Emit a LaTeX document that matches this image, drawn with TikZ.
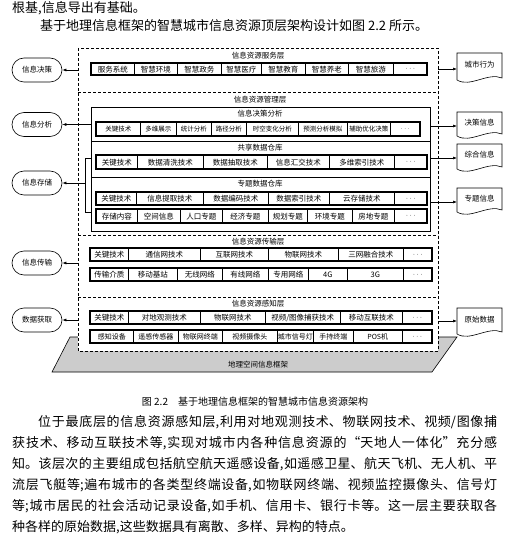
\documentclass[tikz,border=0pt]{standalone}
\usepackage{fontspec}
\setmainfont{Noto Sans CJK SC}
\XeTeXlinebreaklocale "zh"
\XeTeXlinebreakskip=0pt plus 2pt
\usetikzlibrary{arrows.meta}
\tikzset{
  cellbox/.style={draw, fill=white, line width=0.5pt, inner sep=0pt, anchor=north west},
  rowframe/.style={draw, line width=1.1pt},
  lbl/.style={font=\fontsize{7.5}{8}\selectfont, inner sep=0pt},
  oval/.style={draw, fill=white, rounded corners=12pt, minimum width=50pt, minimum height=24pt, inner sep=0pt, font=\fontsize{7.5}{8}\selectfont, line width=0.6pt},
  arr/.style={-{Latex[length=4pt,width=3pt]}, line width=0.6pt},
  conn/.style={line width=0.6pt},
  layer/.style={dash pattern=on 3pt off 2pt, line width=0.6pt},
  ground/.style={fill=gray!40, draw, line width=0.6pt},
  body/.style={font=\fontsize{13}{21}\selectfont, inner sep=0pt},
  docline/.style={draw, fill=white, line width=0.6pt}
}
\newcommand\cellrow[4]{%
  \foreach \xa/\xb/\tx in {#4}{%
    \node[cellbox, font=\fontsize{#1}{#1}\selectfont, minimum width={(\xb-\xa)*1pt}, minimum height={(#3-#2)*1pt}] (c\xa-#2) at (\xa,#2) {\tx};}}
\newcommand\docshape[4]{%
  \draw[docline] (457,#2) -- (457,#3) .. controls (470,#3+8) and (488,#3-8) .. (502,#3-2) -- (502,#2) -- cycle;
  \node[lbl] (#1) at (479.5,{(#2+#3)/2-1.5}) {#4};}
\begin{document}
\begin{tikzpicture}[x=1pt,y=-1pt]
\useasboundingbox (0,0) rectangle (510,540);
\fill[white] (0,0) rectangle (510,540);
% top text
\node[body, anchor=west] (t1) at (12,8) {根基,信息导出有基础。};
\node[body, anchor=west] (t2) at (40,26) {基于地理信息框架的智慧城市信息资源顶层架构设计如图 2.2 所示。};
% ground
\draw[ground] (70,337) -- (457,337) -- (432,372) -- (52,372) -- cycle;
\node[lbl] (gl) at (258,365) {地理空间信息框架};
% layers
\draw[layer, fill=white] (78,48) rectangle (438,351);
\draw[layer] (78,92) -- (438,92);
\draw[layer] (78,235) -- (438,235);
\draw[layer] (78,297) -- (438,297);
% service layer
\node[lbl] (l1) at (258,55.5) {信息资源服务层};
\cellrow{7.5}{63}{75}{91/134/服务系统,134/177/智慧环境,177/221/智慧政务,221/261/智慧医疗,261/305/智慧教育,305/348/智慧养老,348/393/智慧旅游,393/427/$\cdots$}
\draw[rowframe] (91,63) rectangle (427,75);
% management layer
\node[lbl] (l2) at (260,100) {信息资源管理层};
\draw[line width=0.9pt, fill=white] (91,107) rectangle (430,231);
\draw[line width=0.9pt] (91,141) -- (430,141);
\draw[line width=0.9pt] (91,177) -- (430,177);
\node[lbl] (l2a) at (260,114) {信息决策分析};
\cellrow{6.5}{122}{136}{96/140/关键技术,140/176/多维展示,176/211/统计分析,211/246/路径分析,246/298/时空变化分析,298/347/预测分析模拟,347/390/辅助优化决策,390/420/$\cdots$}
\draw[rowframe] (96,122) rectangle (420,136);
\node[lbl] (l2b) at (260,148) {共享数据仓库};
\cellrow{7.5}{155}{169}{96/137/关键技术,137/203/数据清洗技术,203/267/数据抽取技术,267/329/信息汇交技术,329/394/多维索引技术,394/427/$\cdots$}
\draw[rowframe] (96,155) rectangle (427,169);
\node[lbl] (l2c) at (260,184) {专题数据仓库};
\cellrow{7.5}{192}{205}{96/136/关键技术,136/203/信息提取技术,203/268/数据编码技术,268/329/数据索引技术,329/394/云存储技术,394/427/$\cdots$}
\draw[rowframe] (96,192) rectangle (427,205);
\cellrow{7.5}{209}{223}{96/137/存储内容,137/180/空间信息,180/222/人口专题,222/268/经济专题,268/307/规划专题,307/352/环境专题,352/394/房地专题,394/427/$\cdots$}
\draw[rowframe] (96,209) rectangle (427,223);
% transmission layer
\node[lbl] (l3) at (258,242) {信息资源传输层};
\cellrow{7.5}{248}{261}{90/128/关键技术,128/200/通信网技术,200/268/互联网技术,268/338/物联网技术,338/403/三网融合技术,403/432/$\cdots$}
\draw[rowframe] (90,248) rectangle (432,261);
\cellrow{7.5}{268}{281}{90/128/传输介质,128/177/移动基站,177/222/无线网络,222/268/有线网络,268/308/专用网络,308/347/4G,347/403/3G,403/432/$\cdots$}
\draw[rowframe] (90,268) rectangle (432,281);
% perception layer
\node[lbl] (l4) at (258,304) {信息资源感知层};
\cellrow{7.5}{311}{324}{90/128/关键技术,128/200/对地观测技术,200/265/物联网技术,265/340/{视频/图像捕获技术},340/402/移动互联技术,402/432/$\cdots$}
\draw[rowframe] (90,311) rectangle (432,324);
\cellrow{7}{330}{343}{90/133/感知设备,133/178/遥感传感器,178/222/物联网终端,222/277/视频摄像头,277/313/城市信号灯,313/353/手持终端,353/402/POS机,402/432/$\cdots$}
\draw[rowframe] (90,330) rectangle (432,343);
% left ovals
\node[oval] (o1) at (37,70) {信息决策};
\node[oval] (o2) at (37,124.5) {信息分析};
\node[oval] (o3) at (37,183) {信息存储};
\node[oval] (o4) at (37,263) {信息传输};
\node[oval] (o5) at (37,320) {数据获取};
\coordinate (s1) at (78,70);
\coordinate (s2) at (91,124.5);
\coordinate (s3) at (85,183);
\coordinate (s4) at (78,263);
\coordinate (s5) at (78,320);
\draw[conn] (91,158) -- (85,158) -- (85,212) -- (91,212);
\draw[arr] (s1) -- (o1);
\draw[arr] (s2) -- (o2);
\draw[arr] (s3) -- (o3);
\draw[arr] (s4) -- (o4);
\draw[arr] (s5) -- (o5);
% right documents
\docshape{d1}{53}{80}{城市行为}
\docshape{d2}{112}{136}{决策信息}
\docshape{d3}{144}{169}{综合信息}
\docshape{d4}{188}{212}{专题信息}
\docshape{d5}{308}{334}{原始数据}
\coordinate (r1) at (438,69);
\coordinate (r2) at (430,126);
\coordinate (r3) at (430,158);
\coordinate (r4) at (430,202);
\coordinate (r5) at (438,321);
\coordinate (e1) at (457,69);
\coordinate (e2) at (457,126);
\coordinate (e3) at (457,158);
\coordinate (e4) at (457,202);
\coordinate (e5) at (457,321);
\draw[arr] (r1) -- (e1);
\draw[arr] (r2) -- (e2);
\draw[arr] (r3) -- (e3);
\draw[arr] (r4) -- (e4);
\draw[arr] (r5) -- (e5);
% caption
\node[inner sep=0pt, font=\fontsize{10}{12}\selectfont] (cap) at (255,402) {图 2.2\quad 基于地理信息框架的智慧城市信息资源架构};
% paragraph
\node[body, anchor=north west, text width=485pt, align=justify] (para) at (12,415.5) {\hspace*{26pt}位于最底层的信息资源感知层,利用对地观测技术、物联网技术、视频/图像捕\linebreak
获技术、移动互联技术等,实现对城市内各种信息资源的“天地人一体化”充分感\linebreak
知。该层次的主要组成包括航空航天遥感设备,如遥感卫星、航天飞机、无人机、平\linebreak
流层飞艇等;遍布城市的各类型终端设备,如物联网终端、视频监控摄像头、信号灯\linebreak
等;城市居民的社会活动记录设备,如手机、信用卡、银行卡等。这一层主要获取各\linebreak
种各样的原始数据,这些数据具有离散、多样、异构的特点。};
\end{tikzpicture}
\end{document}
